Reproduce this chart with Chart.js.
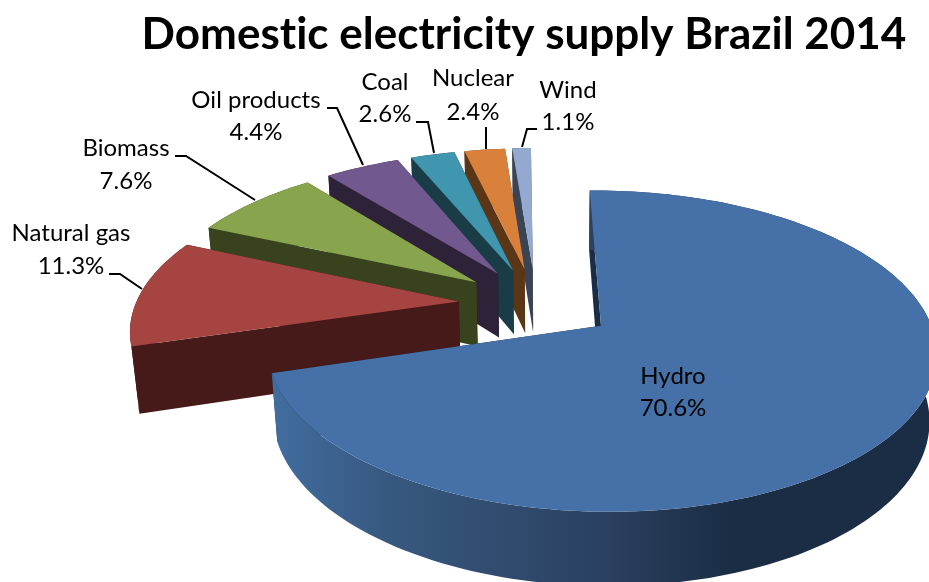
<!DOCTYPE html>
<html lang="en">
<head>
    <meta charset="UTF-8">
    <title>Domestic electricity supply Brazil 2014</title>
    <script src="https://cdn.jsdelivr.net/npm/chart.js"></script>
    <style>
        html, body { margin: 0; padding: 0; background: #fff; overflow: hidden; }
        #wrap { width: 929px; height: 582px; }
    </style>
</head>
<body>
    <div id="wrap"><canvas id="pie" width="929" height="582"></canvas></div>

    <script>
        const categories = ['Hydro', 'Natural gas', 'Biomass', 'Oil products', 'Coal', 'Nuclear', 'Wind'];
        const shares = [70.6, 11.3, 7.6, 4.4, 2.6, 2.4, 1.1];
        const topColors = ['#4571A8', '#A64442', '#88A44D', '#71588F', '#4096AF', '#D9813B', '#93A9CF'];
        const sideColors = ['#1B2D45', '#451A18', '#38431E', '#2D2238', '#193C46', '#5A3516', '#3B4454'];

        // label placement: text centres and leader lines, same order as categories
        const labelPos = [
            { x: 673, y1: 376, y2: 408 },
            { x: 71, y1: 233, y2: 266, line: [[109, 274], [120, 274], [142, 289]] },
            { x: 126, y1: 148, y2: 181, line: [[175, 156], [186, 156], [255, 200]] },
            { x: 256, y1: 100, y2: 132, line: [[327, 108], [337, 108], [363, 165]] },
            { x: 385, y1: 82, y2: 114, line: [[416, 122], [428, 122], [434, 153]] },
            { x: 473, y1: 78, y2: 112, line: [[486, 127], [486, 149]] },
            { x: 568, y1: 90, y2: 122, line: [[537, 129], [527, 129], [522, 147]] }
        ];

        // perspective of the tilted pie, fitted by eye
        const cam = { a: 323, c: -86, h: 536, d: 102.6, f: 303.6, g: -0.155, drop: 72, k: 0.0186, vx: 554 };
        const explode = 0.24;
        const explodeHydro = 0.245;

        function project(X, Y, down) {
            const w = 1 + cam.g * Y;
            const nx = cam.a * X + cam.c * Y + cam.h;
            const ny = cam.d * Y + cam.f;
            if (!down) return [nx / w, ny / w];
            return [(nx + cam.k * cam.vx) / (w + cam.k), (ny + cam.drop) / (w + cam.k)];
        }

        function fillPoly(ctx, pts, color) {
            ctx.beginPath();
            pts.forEach((p, i) => i ? ctx.lineTo(p[0], p[1]) : ctx.moveTo(p[0], p[1]));
            ctx.closePath();
            ctx.fillStyle = color;
            ctx.fill();
        }

        const pie3d = {
            id: 'pie3d',
            beforeDraw(chart) {
                // keeps Lato from joining "ti" into a ligature
                chart.ctx.letterSpacing = '0.01px';
            },
            beforeDatasetsDraw(chart) {
                const ctx = chart.ctx;
                const arcs = chart.getDatasetMeta(0).data;

                // back slices first, hydro last
                for (let i = arcs.length - 1; i >= 0; i--) {
                    const start = arcs[i].startAngle + Math.PI / 2;
                    const end = arcs[i].endAngle + Math.PI / 2;
                    const mid = (start + end) / 2;
                    const e = i === 0 ? explodeHydro : explode;
                    const ox = e * Math.sin(mid);
                    const oy = -e * Math.cos(mid);
                    const steps = Math.max(6, Math.ceil((end - start) * 40));

                    const rimTop = [], rimBottom = [];
                    for (let s = 0; s <= steps; s++) {
                        const t = start + (end - start) * s / steps;
                        rimTop.push(project(ox + Math.sin(t), oy - Math.cos(t), false));
                        rimBottom.push(project(ox + Math.sin(t), oy - Math.cos(t), true));
                    }
                    const apexTop = project(ox, oy, false);
                    const apexBottom = project(ox, oy, true);

                    let wallColor = sideColors[i];
                    if (i === 0) {
                        wallColor = ctx.createLinearGradient(273, 0, 929, 0);
                        wallColor.addColorStop(0, '#416D9F');
                        wallColor.addColorStop(0.18, '#37587F');
                        wallColor.addColorStop(0.5, '#2A4160');
                        wallColor.addColorStop(0.7, '#1B2D45');
                        wallColor.addColorStop(1, '#1B2D45');
                    }

                    // radial walls, then the outer wall, then the top face
                    fillPoly(ctx, [rimTop[steps], apexTop, apexBottom, rimBottom[steps]], sideColors[i]);
                    fillPoly(ctx, [rimTop[0], apexTop, apexBottom, rimBottom[0]], sideColors[i]);
                    fillPoly(ctx, rimTop.concat(rimBottom.slice().reverse()), wallColor);
                    fillPoly(ctx, [apexTop].concat(rimTop), topColors[i]);
                }
                return false;
            },
            afterDraw(chart) {
                const ctx = chart.ctx;
                ctx.save();
                ctx.font = '24px Lato, sans-serif';
                ctx.fillStyle = '#000';
                ctx.textAlign = 'center';
                ctx.textBaseline = 'middle';
                categories.forEach((name, i) => {
                    const pos = labelPos[i];
                    ctx.fillText(name, pos.x, pos.y1);
                    ctx.fillText(shares[i].toFixed(1) + '%', pos.x, pos.y2);
                    if (pos.line) {
                        ctx.beginPath();
                        pos.line.forEach((p, j) => j ? ctx.lineTo(p[0], p[1]) : ctx.moveTo(p[0], p[1]));
                        ctx.strokeStyle = '#000';
                        ctx.lineWidth = 2;
                        ctx.stroke();
                    }
                });
                ctx.restore();
            }
        };

        new Chart(document.getElementById('pie').getContext('2d'), {
            type: 'pie',
            data: {
                labels: categories,
                datasets: [{ data: shares, backgroundColor: topColors, borderWidth: 0 }]
            },
            options: {
                responsive: false,
                animation: false,
                rotation: -1,
                layout: { padding: { left: 119 } },
                plugins: {
                    legend: { display: false },
                    tooltip: { enabled: false },
                    title: {
                        display: true,
                        text: 'Domestic electricity supply Brazil 2014',
                        color: '#000',
                        font: { family: 'Lato, sans-serif', size: 44, weight: 'bold' },
                        padding: { top: 8, bottom: 0 }
                    }
                }
            },
            plugins: [pie3d]
        });
    </script>
</body>
</html>
